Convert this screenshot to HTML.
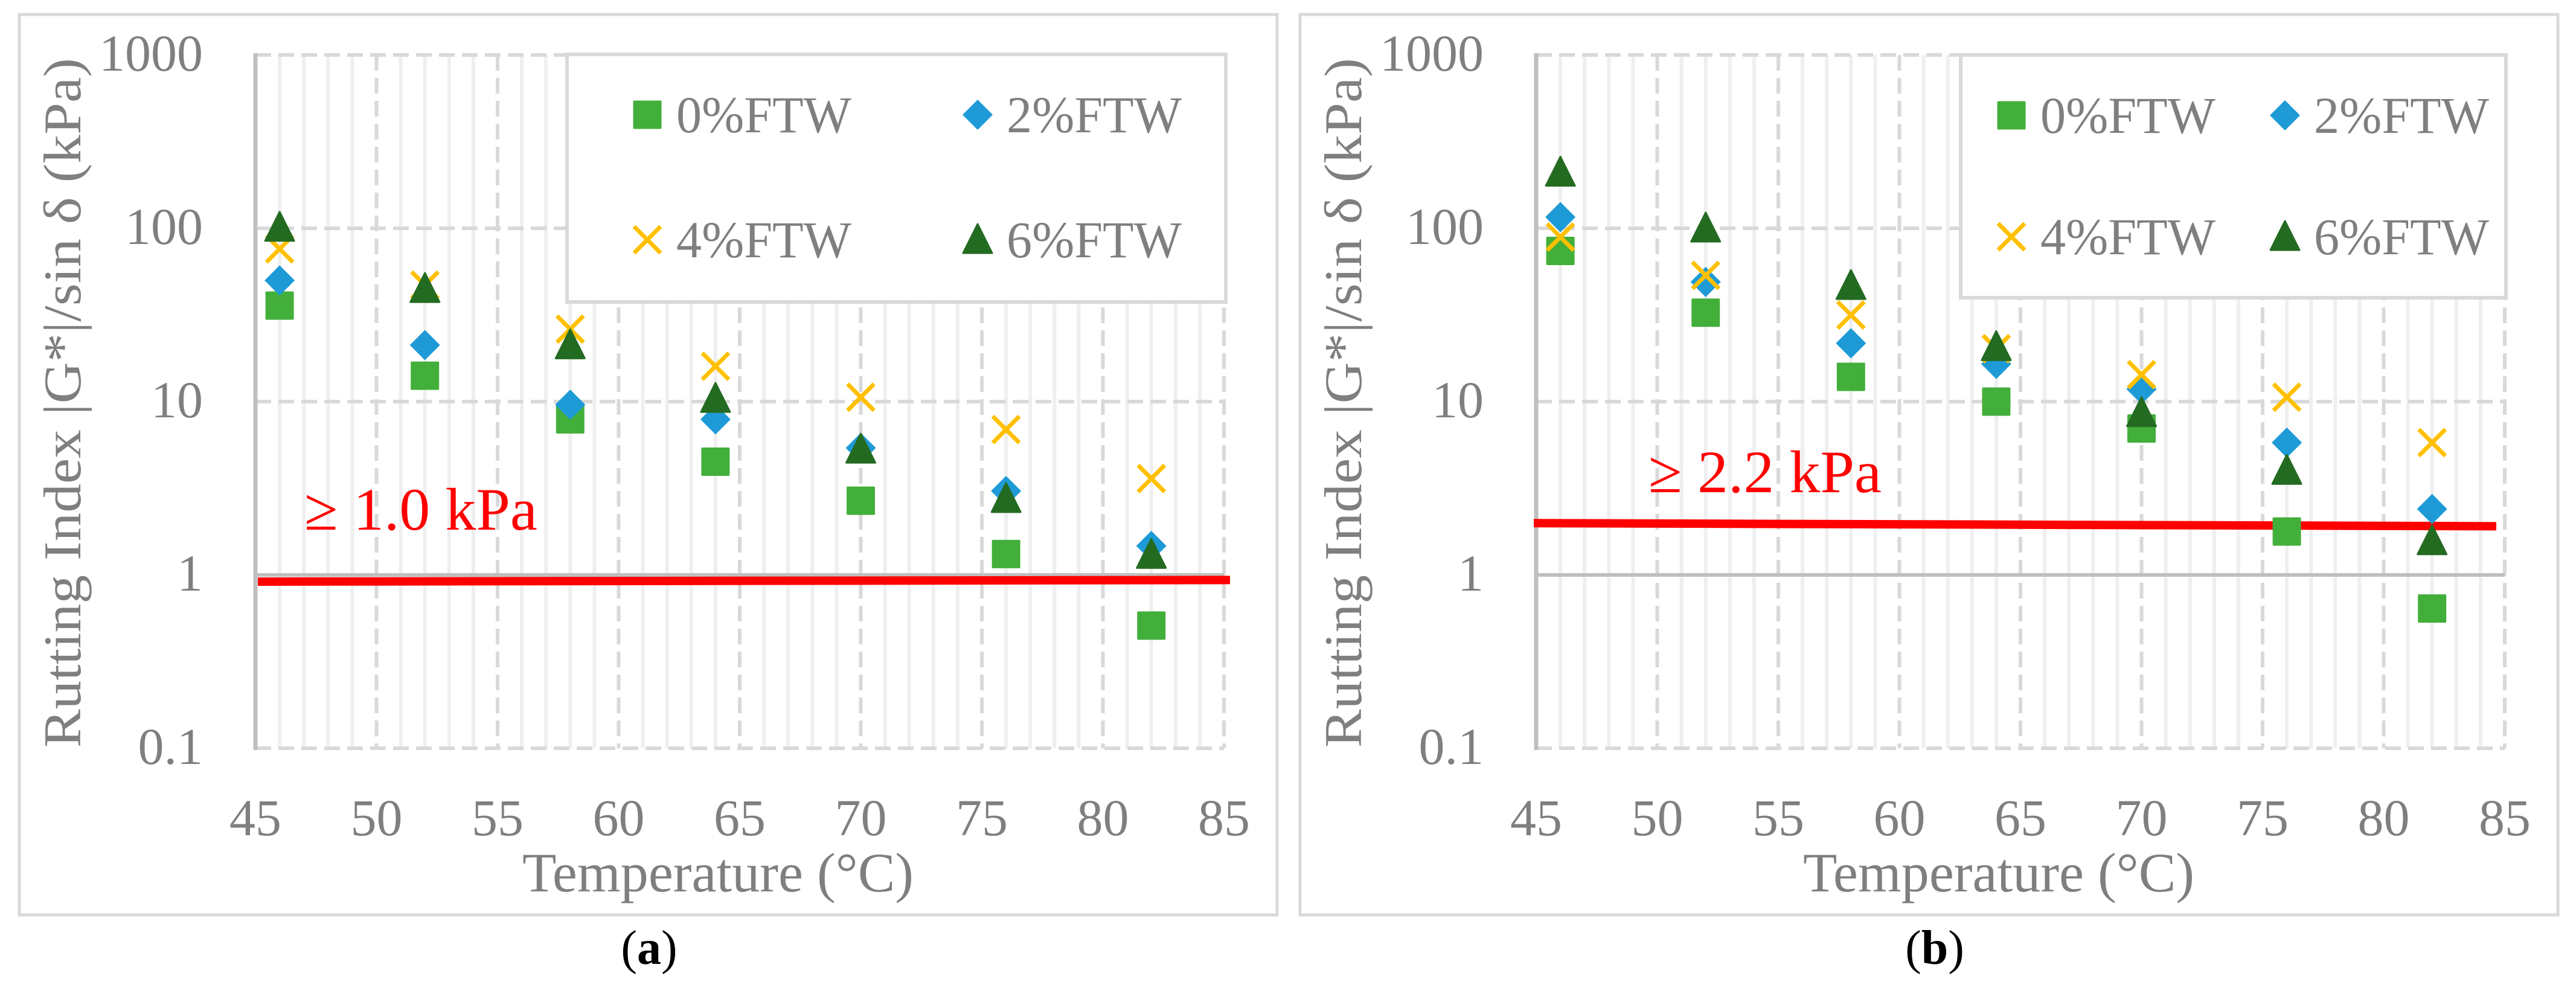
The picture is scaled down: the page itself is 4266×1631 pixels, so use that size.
<!DOCTYPE html>
<html><head><meta charset="utf-8">
<style>
html,body{margin:0;padding:0;background:#fff;}
svg{display:block;}
text{font-family:"Liberation Serif",serif;}
</style></head>
<body>
<svg id="fig" width="4266" height="1631" viewBox="0 0 4266 1631" xmlns="http://www.w3.org/2000/svg"></svg>
<script>
const temps = [46, 52, 58, 64, 70, 76, 82];
const seriesNames = ["0%FTW", "2%FTW", "4%FTW", "6%FTW"];
const a_ftw0 = [35.8, 14.1, 7.9, 4.5, 2.68, 1.32, 0.51];
const a_ftw2 = [50, 21.2, 9.6, 7.9, 5.4, 3.05, 1.47];
const a_ftw4 = [76, 47, 26.2, 16, 10.6, 6.9, 3.6];
const a_ftw6 = [101, 44.8, 21.2, 10.4, 5.3, 2.75, 1.31];
const b_ftw0 = [74, 32.6, 13.9, 10.0, 7.0, 1.78, 0.64];
const b_ftw2 = [116, 49, 21.7, 16.5, 11.8, 5.8, 2.4];
const b_ftw4 = [89, 53.5, 31.6, 20.2, 14.3, 10.6, 5.8];
const b_ftw6 = [210, 100, 46.6, 20.7, 8.6, 4.0, 1.57];
const xTicks = [45, 50, 55, 60, 65, 70, 75, 80, 85];
const yTicks = [0.1, 1, 10, 100, 1000];
const yTickLabels = ["0.1", "1", "10", "100", "1000"];
const a_limitX = [45.1, 85.25];
const a_limitY = [0.915, 0.935];
const b_limitX = [44.9, 84.65];
const b_limitY = [1.99, 1.91];

const NS = "http://www.w3.org/2000/svg";
const svg = document.getElementById("fig");
function el(tag, attrs, parent, txt){
  const e = document.createElementNS(NS, tag);
  for (const k in attrs) e.setAttribute(k, attrs[k]);
  if (txt !== undefined) e.textContent = txt;
  (parent || svg).appendChild(e);
  return e;
}
const colors = ["#43AF3B", "#1E9BD7", "#FFC000", "#246B22"];

function marker(g, kind, cx, cy, name){
  let m;
  if (kind === 0) m = el("rect", {x: cx-23.5, y: cy-23.5, width: 47, height: 47, rx: 2, fill: colors[0]}, g);
  else if (kind === 1) m = el("polygon", {points: `${cx},${cy-25} ${cx+25},${cy} ${cx},${cy+25} ${cx-25},${cy}`, fill: colors[1]}, g);
  else if (kind === 2){
    m = el("path", {d: `M${cx-22},${cy-22}L${cx+22},${cy+22}M${cx+22},${cy-22}L${cx-22},${cy+22}`, stroke: colors[2], "stroke-width": 7, fill: "none"}, g);
  } else m = el("polygon", {points: `${cx},${cy-26} ${cx+24},${cy+22} ${cx-24},${cy+22}`, fill: colors[3], "stroke": colors[3], "stroke-width": 3, "stroke-linejoin": "round"}, g);
  
  
  return m;
}

function drawChart(cfg){
  const ox = cfg.ox;
  const L = 423 + ox, R = 2027 + ox;
  const xs = v => L + (v - 45) * (R - L) / 40;
  const ys = v => 952 - Math.log10(v) * 287;
  const g = el("g", {});
  
  
  // panel border
  const pb = el("rect", {x: 32 + ox + (cfg.id==='b'?0:0), y: 24, width: 2083, height: 1491, fill: "#fff", stroke: "#d9d9d9", "stroke-width": 5}, g);
  
  
  // minor vertical gridlines
  for (let t = 46; t < 85; t++){
    if (t % 5 === 0) continue;
    const l = el("line", {x1: xs(t), x2: xs(t), y1: ys(1000), y2: ys(0.1), stroke: "#efefef", "stroke-width": 6}, g);
    
    
  }
  // major vertical
  xTicks.forEach(t => {
    if (t === 45) return;
    const l = el("line", {x1: xs(t), x2: xs(t), y1: ys(1000), y2: ys(0.1), stroke: "#d9d9d9", "stroke-width": 6, "stroke-dasharray": "26 12"}, g);
    
    
  });
  // horizontal
  yTicks.forEach(v => {
    if (v === 1) return;
    const l = el("line", {x1: L, x2: R, y1: ys(v), y2: ys(v), stroke: "#d9d9d9", "stroke-width": 6, "stroke-dasharray": "26 12"}, g);
    
    
  });
  // axes
  const ya = el("line", {x1: L, x2: L, y1: ys(1000)-3, y2: ys(0.1)+3, stroke: "#bfbfbf", "stroke-width": 7}, g);
  
  
  const xa = el("line", {x1: L, x2: R, y1: ys(1), y2: ys(1), stroke: "#bfbfbf", "stroke-width": 6}, g);
  
  
  // y tick labels
  yTicks.forEach((v, i) => {
    const t = el("text", {x: 336 + ox, y: ys(v) + 26, "text-anchor": "end", "font-size": 86, fill: "#7f7f7f"}, g, yTickLabels[i]);
    
    
  });
  xTicks.forEach(v => {
    const t = el("text", {x: xs(v), y: 1383, "text-anchor": "middle", "font-size": 86, fill: "#7f7f7f"}, g, String(v));
    
    
  });
  const yt = el("text", {x: 0, y: 0, "text-anchor": "middle", "font-size": 88, fill: "#7f7f7f", transform: `translate(${133+ox},667) rotate(-90)`, textLength: 1142, lengthAdjust: "spacingAndGlyphs"}, g, "Rutting Index |G*|/sin δ (kPa)");
  
  
  const xt = el("text", {x: 1189 + ox, y: 1476, "text-anchor": "middle", "font-size": 92, fill: "#7f7f7f", textLength: 648, lengthAdjust: "spacingAndGlyphs"}, g, "Temperature (°C)");
  
  
  // limit line
  const ll = el("line", {x1: xs(cfg.limX[0]), x2: xs(cfg.limX[1]), y1: ys(cfg.limY[0]), y2: ys(cfg.limY[1]), stroke: "#ff0000", "stroke-width": 14}, g);
  
  
  const lt = el("text", {x: cfg.labX, y: cfg.labY, "font-size": 100, fill: "#ff0000", textLength: 386, lengthAdjust: "spacingAndGlyphs"}, g, cfg.label);
  
  
  // legend
  const lg = el("g", {}, g);
  
  
  const lb = el("rect", {x: cfg.leg[0], y: cfg.leg[1], width: cfg.leg[2]-cfg.leg[0], height: cfg.leg[3]-cfg.leg[1], fill: "#fff", stroke: "#d9d9d9", "stroke-width": 6}, lg);
  
  
  seriesNames.forEach((n, i) => {
    const mx = cfg.legMX[i % 2], my = cfg.legY[Math.floor(i / 2)];
    marker(lg, i, mx, my, 'legend-marker');
    const t = el("text", {x: mx + 48, y: my + 29, "font-size": 86, fill: "#7f7f7f", textLength: 290, lengthAdjust: "spacingAndGlyphs"}, lg, n);
    
    
  });
  // data
  cfg.data.forEach((arr, si) => {
    const sg = el("g", {}, g);
    
    
    arr.forEach((v, i) => marker(sg, si, xs(temps[i]), ys(v), 'point'));
  });
  const cap = el("text", {x: cfg.capX, y: 1596, "text-anchor": "middle", "font-size": 80, fill: "#000"}, g);
  
  
  el("tspan", {}, cap, "(");
  el("tspan", {"font-weight": "bold"}, cap, cfg.id);
  el("tspan", {}, cap, ")");
}

drawChart({id: "a", ox: 0, data: [a_ftw0, a_ftw2, a_ftw4, a_ftw6], limX: a_limitX, limY: a_limitY,
  label: "≥ 1.0 kPa", labX: 504, labY: 877, leg: [939, 90, 2030, 500], legMX: [1072, 1619], legY: [190, 397], capX: 1075});
drawChart({id: "b", ox: 2121, data: [b_ftw0, b_ftw2, b_ftw4, b_ftw6], limX: b_limitX, limY: b_limitY,
  label: "≥ 2.2 kPa", labX: 2730, labY: 815, leg: [3247, 91, 4150, 493], legMX: [3331, 3784], legY: [191, 392], capX: 3204});
</script>
</body></html>
